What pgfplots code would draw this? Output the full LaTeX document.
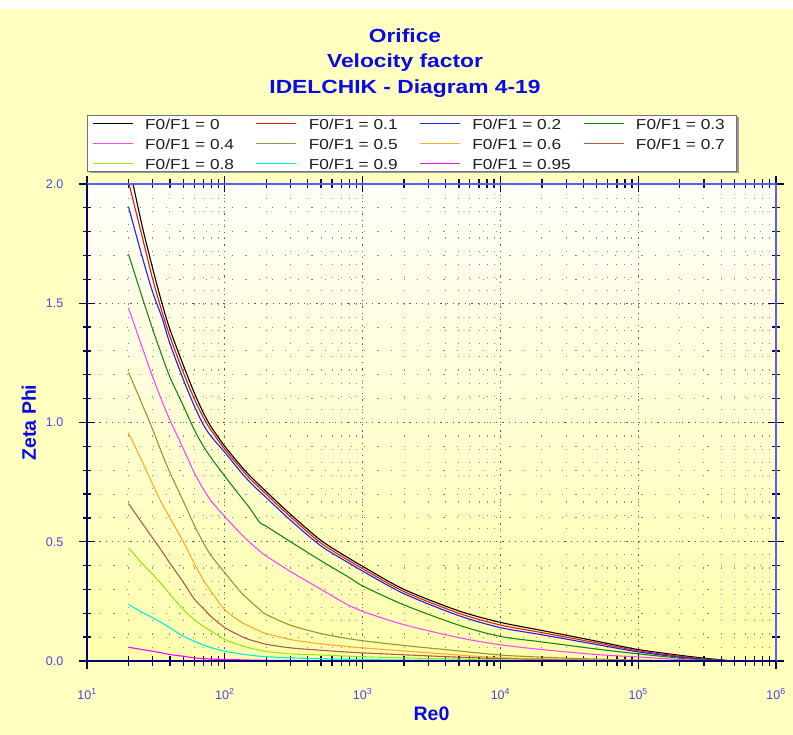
\documentclass[border=0pt]{standalone}
\usepackage{fontspec}
\setmainfont{Liberation Sans}
\usepackage{graphicx}
\usepackage{pgfplots}
\pgfplotsset{compat=1.18}
\usepackage{pgfplotstable}

\definecolor{bgy}{RGB}{255,255,192}
\definecolor{plottop}{RGB}{255,255,250}
\definecolor{plotbot}{RGB}{255,255,172}
\definecolor{titleblue}{RGB}{10,10,230}
\definecolor{tickblue}{RGB}{70,70,235}
\definecolor{navy}{RGB}{0,0,120}
\definecolor{lightaxis}{RGB}{90,90,255}
\definecolor{tickc}{RGB}{10,10,60}
\definecolor{legtext}{RGB}{30,30,30}
\definecolor{k0}{RGB}{0,0,0}
\definecolor{k1}{RGB}{235,20,20}
\definecolor{k2}{RGB}{30,30,240}
\definecolor{k3}{RGB}{20,135,20}
\definecolor{k4}{RGB}{255,70,255}
\definecolor{k5}{RGB}{150,150,50}
\definecolor{k6}{RGB}{255,170,40}
\definecolor{k7}{RGB}{175,90,75}
\definecolor{k8}{RGB}{140,240,20}
\definecolor{k9}{RGB}{0,235,235}
\definecolor{k95}{RGB}{255,0,255}

\pgfplotstableread{
Re      c0    c1    c2    c3    c4    c5    c6    c7    c8    c9    c95
20      2.09  2.01  1.905 1.705 1.48  1.21  0.957 0.66  0.475 0.237 0.058
25      1.83  1.785 1.70  1.53  1.32  1.08  0.84  0.58  0.41  0.205 0.048
30      1.645 1.60  1.545 1.39  1.19  0.97  0.74  0.515 0.363 0.181 0.041
35      1.50  1.465 1.44  1.28  1.09  0.87  0.66  0.46  0.32  0.16  0.034
40      1.39  1.36  1.33  1.19  1.01  0.79  0.60  0.41  0.28  0.139 0.027
50      1.24  1.21  1.18  1.07  0.89  0.67  0.50  0.33  0.216 0.104 0.020
60      1.125 1.10  1.07  0.97  0.79  0.57  0.41  0.26  0.174 0.083 0.013
70      1.04  1.02  0.99  0.90  0.72  0.495 0.34  0.22  0.145 0.067 0.010
80      0.98  0.965 0.94  0.85  0.67  0.44  0.29  0.185 0.125 0.055 0.008
100     0.90  0.888 0.875 0.775 0.605 0.37  0.215 0.14  0.09  0.041 0.006
130     0.82  0.809 0.794 0.69  0.535 0.29  0.165 0.105 0.066 0.030 0.005
150     0.78  0.769 0.754 0.645 0.50  0.255 0.146 0.09  0.055 0.025 0.004
180     0.735 0.724 0.709 0.58  0.46  0.215 0.125 0.077 0.045 0.020 0.003
200     0.71  0.699 0.685 0.565 0.44  0.195 0.115 0.07  0.04  0.018 0.003
300     0.615 0.604 0.59  0.50  0.375 0.15  0.09  0.055 0.03  0.013 0.002
500     0.505 0.494 0.482 0.42  0.30  0.115 0.072 0.045 0.025 0.010 0.001
800     0.43  0.42  0.41  0.35  0.232 0.093 0.06  0.037 0.02  0.007 0.001
1000    0.397 0.387 0.377 0.315 0.208 0.085 0.055 0.034 0.018 0.006 0.001
2000    0.30  0.291 0.282 0.235 0.152 0.065 0.042 0.026 0.013 0.004 0.0
5000    0.21  0.20  0.19  0.15  0.098 0.042 0.025 0.016 0.008 0.003 0.0
10000   0.162 0.151 0.14  0.103 0.068 0.025 0.014 0.010 0.005 0.002 0.0
20000   0.128 0.119 0.11  0.08  0.048 0.016 0.009 0.006 0.003 0.001 0.0
50000   0.083 0.076 0.069 0.05  0.027 0.008 0.004 0.003 0.001 0.0   0.0
100000  0.048 0.043 0.038 0.03  0.017 0.004 0.002 0.001 0.0   0.0   0.0
200000  0.024 0.020 0.016 0.012 0.006 0.001 0.0   0.0   0.0   0.0   0.0
300000  0.012 0.009 0.007 0.005 0.002 0.0   0.0   0.0   0.0   0.0   0.0
400000  0.005 0.004 0.003 0.002 0.001 0.0   0.0   0.0   0.0   0.0   0.0
500000  0.0   0.0   0.0   0.0   0.0   0.0   0.0   0.0   0.0   0.0   0.0
1000000 0.0   0.0   0.0   0.0   0.0   0.0   0.0   0.0   0.0   0.0   0.0
}\data

\newcommand\tfont{\fontsize{19bp}{22bp}\selectfont\bfseries}
\newcommand\tickfont{\fontsize{12.5bp}{14bp}\selectfont}
\newcommand\lfont{\fontsize{19.5bp}{22bp}\selectfont\bfseries}
\newcommand\legtxt[2][110.6bp]{\makebox[#1][l]{\scalebox{1.2}[1]{\fontsize{14.4bp}{16bp}\selectfont\color{legtext}F0/F1 = #2}}}

\begin{document}
\begin{tikzpicture}
\useasboundingbox (0,0) rectangle (793bp,735bp);
\fill[bgy] (0,0) rectangle (793bp,726bp);
\fill[white] (0,726bp) rectangle (793bp,735bp);
\node[anchor=base, text=titleblue, inner sep=0pt] at (405bp,692.5bp) {\scalebox{1.2}[1]{\tfont Orifice}};
\node[anchor=base, text=titleblue, inner sep=0pt] at (405bp,667.5bp) {\scalebox{1.2}[1]{\tfont Velocity factor}};
\node[anchor=base, text=titleblue, inner sep=0pt] at (405bp,641.5bp) {\scalebox{1.2}[1]{\tfont IDELCHIK - Diagram 4-19}};
% legend shadow (the legend box covers its inner part)
\fill[black!40] (90bp,561.5bp) rectangle (738.5bp,617.5bp);
\begin{axis}[
  name=ax,
  at={(87bp,74bp)}, anchor=south west,
  scale only axis, width=689bp, height=477bp,
  xmode=log, xmin=10, xmax=1000000, ymin=0, ymax=2,
  xtick={10,100,1000,10000,100000,1000000},
  xticklabels={10\textsuperscript{1},10\textsuperscript{2},10\textsuperscript{3},10\textsuperscript{4},10\textsuperscript{5},10\textsuperscript{6}},
  ytick={0,0.5,1,1.5,2},
  yticklabels={0.0,0.5,1.0,1.5,2.0},
  minor ytick={0.1,0.2,0.3,0.4,0.6,0.7,0.8,0.9,1.1,1.2,1.3,1.4,1.6,1.7,1.8,1.9},
  tick align=center,
  major tick length=16bp, minor tick length=9bp,
  every tick/.style={color=tickc, line width=1.3bp},
  tick pos=both,
  grid=both,
  major grid style={color=black!65, line width=1bp, dash pattern=on 1.2bp off 5bp},
  minor grid style={color=black!45, line width=1bp, dash pattern=on 1.2bp off 12bp},
  axis line style={draw=none},
  axis background/.style={top color=plottop, bottom color=plotbot},
  xticklabel style={font=\tickfont, text=tickblue, anchor=base, inner sep=0pt, yshift=-30bp},
  yticklabel style={font=\tickfont, text=tickblue, anchor=east, inner sep=0pt, xshift=-15.5bp},
  xlabel={\lfont Re0},
  ylabel={\lfont Zeta Phi},
  xlabel style={at={(axis description cs:0.5,-0.1111)}, anchor=center, text=titleblue, inner sep=0pt},
  ylabel style={at={(axis description cs:-0.0842,0.5)}, anchor=center, text=titleblue, inner sep=0pt},
  legend columns=4,
  legend cell align=left,
  legend style={at={(axis description cs:0.0007,1.1447)}, anchor=north west,
    draw=none, fill=white,
    inner xsep=4.5bp, inner ysep=1bp, row sep=5.3bp,
    nodes={inner sep=0pt, text height=13bp, text depth=1.7bp},
    /tikz/every odd column/.append style={column sep=11.6bp}},
  every axis plot/.append style={line width=1.1bp, smooth, tension=0.5},
]
\addplot[color=k0, forget plot] table[x=Re,y=c0]{\data};
\addplot[color=k1, forget plot] table[x=Re,y=c1]{\data};
\addplot[color=k2, forget plot] table[x=Re,y=c2]{\data};
\addplot[color=k3, forget plot] table[x=Re,y=c3]{\data};
\addplot[color=k4, forget plot] table[x=Re,y=c4]{\data};
\addplot[color=k5, forget plot] table[x=Re,y=c5]{\data};
\addplot[color=k6, forget plot] table[x=Re,y=c6]{\data};
\addplot[color=k7, forget plot] table[x=Re,y=c7]{\data};
\addplot[color=k8, forget plot] table[x=Re,y=c8]{\data};
\addplot[color=k9, forget plot] table[x=Re,y=c9]{\data};
\addplot[color=k95, forget plot] table[x=Re,y=c95]{\data};
\addlegendimage{legend image code/.code={\draw[draw=k0, line width=1.4bp] (0bp,0bp) -- (40bp,0bp);}}
\addlegendentry{\legtxt{0}}
\addlegendimage{legend image code/.code={\draw[draw=k1, line width=1.4bp] (0bp,0bp) -- (40bp,0bp);}}
\addlegendentry{\legtxt{0.1}}
\addlegendimage{legend image code/.code={\draw[draw=k2, line width=1.4bp] (0bp,0bp) -- (40bp,0bp);}}
\addlegendentry{\legtxt{0.2}}
\addlegendimage{legend image code/.code={\draw[draw=k3, line width=1.4bp] (0bp,0bp) -- (40bp,0bp);}}
\addlegendentry{\legtxt[97bp]{0.3}}
\addlegendimage{legend image code/.code={\draw[draw=k4, line width=1.4bp] (0bp,0bp) -- (40bp,0bp);}}
\addlegendentry{\legtxt{0.4}}
\addlegendimage{legend image code/.code={\draw[draw=k5, line width=1.4bp] (0bp,0bp) -- (40bp,0bp);}}
\addlegendentry{\legtxt{0.5}}
\addlegendimage{legend image code/.code={\draw[draw=k6, line width=1.4bp] (0bp,0bp) -- (40bp,0bp);}}
\addlegendentry{\legtxt{0.6}}
\addlegendimage{legend image code/.code={\draw[draw=k7, line width=1.4bp] (0bp,0bp) -- (40bp,0bp);}}
\addlegendentry{\legtxt[97bp]{0.7}}
\addlegendimage{legend image code/.code={\draw[draw=k8, line width=1.4bp] (0bp,0bp) -- (40bp,0bp);}}
\addlegendentry{\legtxt{0.8}}
\addlegendimage{legend image code/.code={\draw[draw=k9, line width=1.4bp] (0bp,0bp) -- (40bp,0bp);}}
\addlegendentry{\legtxt{0.9}}
\addlegendimage{legend image code/.code={\draw[draw=k95, line width=1.4bp] (0bp,0bp) -- (40bp,0bp);}}
\addlegendentry{\legtxt{0.95}}
\end{axis}
\draw[black!55, line width=0.8bp] (87.5bp,563.5bp) rectangle (736.5bp,620bp);
\draw[lightaxis, line width=2bp] (ax.north west) -- (ax.north east) -- (ax.south east);
\draw[navy, line width=2.2bp] (ax.north west) -- (ax.south west) -- (ax.south east);
\end{tikzpicture}
\end{document}
